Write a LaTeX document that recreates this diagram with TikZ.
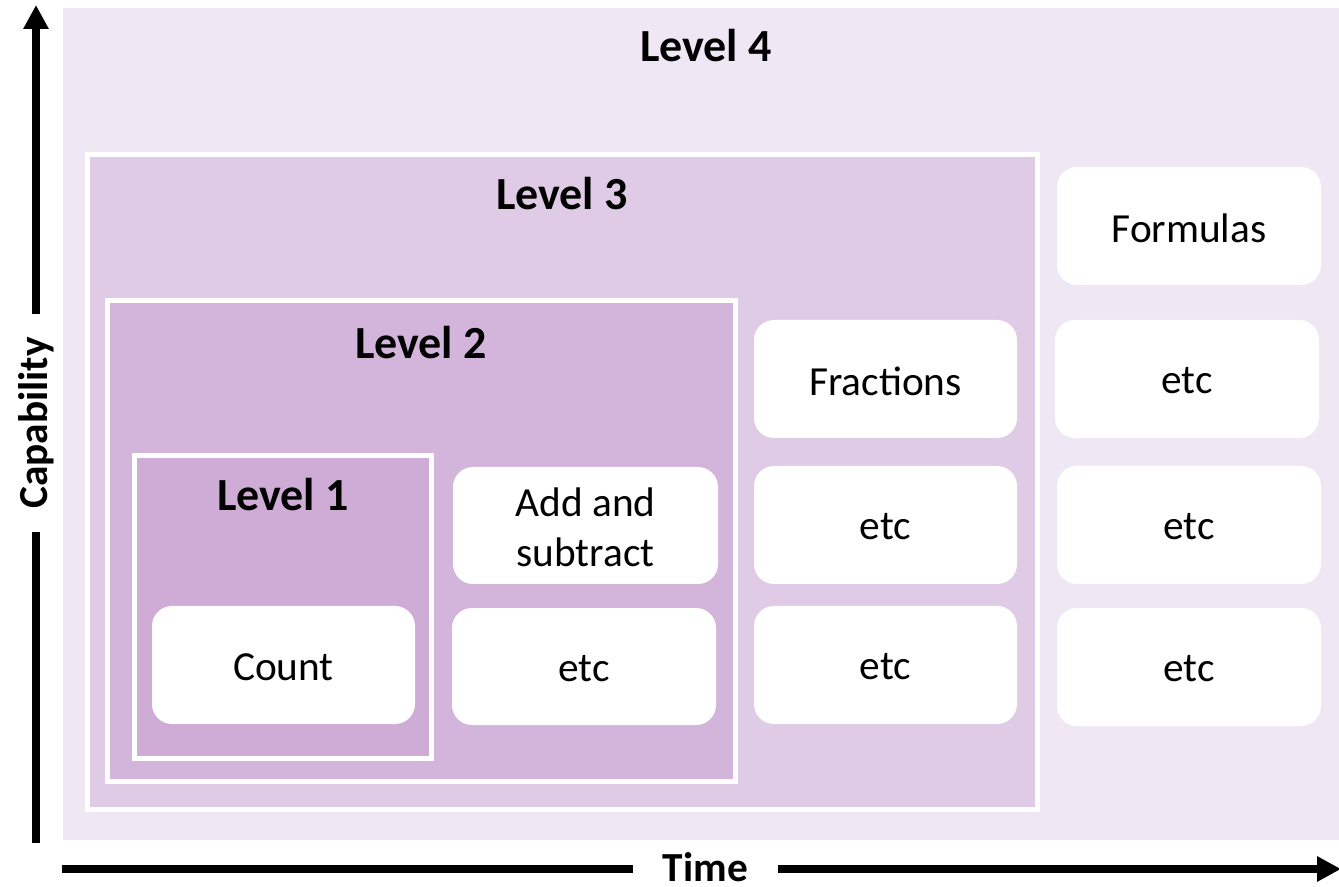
\documentclass[tikz,border=0pt]{standalone}
\usepackage{fontspec}
\setmainfont{Carlito}
\usetikzlibrary{arrows.meta,fit}
\definecolor{lvfour}{HTML}{F0E7F4}
\definecolor{lvthree}{HTML}{DFCBE6}
\definecolor{lvtwo}{HTML}{D3B5DB}
\definecolor{lvone}{HTML}{CFACD5}
\tikzset{
  lvbox/.style={draw=white, line width=3.75pt, inner sep=0pt},
  item/.style={fill=white, rounded corners=15pt, inner sep=0pt, align=center,
    font=\fontsize{31}{37.5}\selectfont},
  itemtext/.style={align=center, font=\fontsize{31}{37.5}\selectfont},
  lvlabel/.style={font=\fontsize{34.5}{40}\selectfont\bfseries},
  axis/.style={line width=6pt, -{Triangle[width=18pt,length=18pt]}},
  axlabel/.style={fill=white, font=\fontsize{31}{37}\selectfont\bfseries}
}
\begin{document}
\begin{tikzpicture}[x=0.75pt,y=-0.75pt]
\useasboundingbox (0,0) rectangle (1339,887);
% level boxes
\node[fill=lvfour, inner sep=0pt, fit={(63,8) (1339,840)}] (l4) {};
\node[lvbox, fill=lvthree, fit={(87.5,154.5) (1037.5,809.5)}] (l3) {};
\node[lvbox, fill=lvtwo, fit={(107.5,300.5) (735.5,781.5)}] (l2) {};
\node[lvbox, fill=lvone, fit={(134.5,455.5) (431.5,758.5)}] (l1) {};
% level labels
\node[lvlabel] (t4) at (706,46) {Level 4};
\node[lvlabel] (t3) at (562,194) {Level 3};
\node[lvlabel] (t2) at (421,343) {Level 2};
\node[lvlabel] (t1) at (283,495) {Level 1};
% items
\node[item, fit={(152,606) (415,724)}] (count) {};
\node[itemtext] (countt) at ([yshift=-1.5pt]count.center) {Count};
\node[item, fit={(453,467) (718,584)}] (add) {};
\node[itemtext] (addt) at ([yshift=-1pt]add.center) {Add and\\subtract};
\node[item, fit={(452,608) (716,725)}] (e2) {};
\node[itemtext] (e2t) at ([yshift=-1.5pt]e2.center) {etc};
\node[item, fit={(754,320) (1017,438)}] (frac) {};
\node[itemtext] (fract) at ([yshift=-1.5pt]frac.center) {Fractions};
\node[item, fit={(754,466) (1017,584)}] (e3a) {};
\node[itemtext] (e3at) at ([yshift=-1.5pt]e3a.center) {etc};
\node[item, fit={(754,606) (1017,724)}] (e3b) {};
\node[itemtext] (e3bt) at ([yshift=-1.5pt]e3b.center) {etc};
\node[item, fit={(1057,167) (1321,285)}] (form) {};
\node[itemtext] (formt) at ([yshift=-1.5pt]form.center) {Formulas};
\node[item, fit={(1055,320) (1319,438)}] (e4a) {};
\node[itemtext] (e4at) at ([yshift=-1.5pt]e4a.center) {etc};
\node[item, fit={(1057,466) (1321,584)}] (e4b) {};
\node[itemtext] (e4bt) at ([yshift=-1.5pt]e4b.center) {etc};
\node[item, fit={(1057,608) (1321,726)}] (e4c) {};
\node[itemtext] (e4ct) at ([yshift=-1.5pt]e4c.center) {etc};
% axes
\coordinate (vbot) at (36,843);
\coordinate (vtop) at (36,5);
\coordinate (hleft) at (62,869);
\coordinate (hright) at (1341,869);
\draw[axis] (vbot) -- (vtop);
\draw[axis] (hleft) -- (hright);
\node[axlabel, rotate=90, inner xsep=17.6pt, inner ysep=2pt] (cap) at (36,423) {Capability};
\node[axlabel, inner xsep=22.5pt, inner ysep=0pt, anchor=base] (time) at (705.5,881) {Time};
\end{tikzpicture}
\end{document}
